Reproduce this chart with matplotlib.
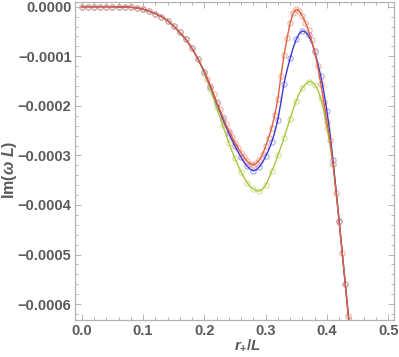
import matplotlib
matplotlib.use("Agg")
import matplotlib.pyplot as plt
from matplotlib.ticker import MultipleLocator, FuncFormatter

plt.rcParams['font.family'] = ['Liberation Sans', 'DejaVu Sans']
plt.rcParams['mathtext.fontset'] = 'custom'
plt.rcParams['mathtext.rm'] = 'Liberation Sans:bold'
plt.rcParams['mathtext.it'] = 'Liberation Sans:italic:bold'
plt.rcParams['mathtext.bf'] = 'Liberation Sans:bold'

# shared flat part, x = 0.00 ... 0.19
x_low = [0.00, 0.01, 0.02, 0.03, 0.04, 0.05, 0.06, 0.07, 0.08, 0.09,
         0.10, 0.11, 0.12, 0.13, 0.14, 0.15, 0.16, 0.17, 0.18, 0.19]
y_low = [0, 0, 0, 0, 0, 0, -0.3e-6, -0.6e-6, -1.2e-6, -2.5e-6,
         -5e-6, -9e-6, -14e-6, -20e-6, -28e-6, -39e-6, -52e-6, -66e-6, -84e-6, -106e-6]

# x = 0.200 ... 0.440 step 0.005
x_high = [0.200, 0.205, 0.210, 0.215, 0.220, 0.225, 0.230, 0.235, 0.240, 0.245,
          0.250, 0.255, 0.260, 0.265, 0.270, 0.275, 0.280, 0.285, 0.290, 0.295,
          0.300, 0.305, 0.310, 0.315, 0.320, 0.325, 0.330, 0.335, 0.340, 0.345,
          0.350, 0.355, 0.360, 0.365, 0.370, 0.375, 0.380, 0.385, 0.390, 0.395,
          0.400, 0.405, 0.410, 0.415, 0.420, 0.425, 0.430, 0.435, 0.440]

# values in units of 1e-6
red_high = [-131, -145, -160, -176, -192, -207, -222, -237, -250, -262,
            -274, -285, -295, -304, -312, -317, -319, -316, -309, -298,
            -282, -264, -244, -218, -186, -140, -98, -64, -33, -13,
            -5, -9, -19, -32, -48, -68, -91, -120, -155, -193,
            -232, -268, -318, -375, -434, -497, -560, -623, -690]

blue_high = [-131, -146, -161, -177, -194, -210, -226, -241, -255, -268,
             -281, -293, -304, -314, -322, -328, -331, -329, -323, -314,
             -302, -289, -273, -253, -228, -193, -155, -128, -104, -83,
             -66, -54, -49, -51, -58, -70, -90, -113, -140, -172,
             -210, -255, -310, -370, -432, -496, -559, -622, -690]

green_high = [-134, -150, -167, -185, -203, -221, -239, -257, -274, -291,
              -306, -320, -334, -345, -355, -363, -368, -371, -372, -368,
              -360, -347, -332, -317, -300, -283, -265, -245, -226, -207,
              -190, -175, -164, -156, -151, -151, -157, -167, -185, -211,
              -245, -278, -318, -372, -432, -496, -559, -622, -690]

x = x_low + x_high
n_low = len(x_low)
every_point = list(range(len(x)))
every_other = list(range(n_low)) + list(range(n_low, len(x), 2))

series = [
    ("green", green_high, "#a8c83a", "#cde08c", every_other),
    ("blue", blue_high, "#3a3ad6", "#9b9bee", every_other),
    ("red", red_high, "#e0603f", "#f2a896", every_point),
]

fig = plt.figure(figsize=(3.99, 3.57), dpi=100)
ax = fig.add_axes([75 / 399, 1 - 320 / 357, 319 / 399, 318.5 / 357])

for name, vals, lc, mc, marks in series:
    y = y_low + [v * 1e-6 for v in vals]
    ax.plot(x, y, color=lc, lw=1.0, zorder=3)
    ax.plot(x, y, ls='none', marker='o', ms=3.8, mfc='none', mec=mc, mew=0.7,
            markevery=marks, zorder=2)

ax.set_xlim(-0.011, 0.5095)
ax.set_ylim(-0.000632, 0.0000105)

ax.xaxis.set_major_locator(MultipleLocator(0.1))
ax.xaxis.set_minor_locator(MultipleLocator(0.02))
ax.yaxis.set_major_locator(MultipleLocator(0.0001))
ax.yaxis.set_minor_locator(MultipleLocator(0.00002))
ax.xaxis.set_major_formatter(FuncFormatter(lambda v, p: f"{v:.1f}"))
ax.yaxis.set_major_formatter(FuncFormatter(
    lambda v, p: "0.0000" if abs(v) < 1e-9 else ("\u2212" if v < 0 else "") + f"{abs(v):.4f}"))

for s in ax.spines.values():
    s.set_color("#b4b4b4")
    s.set_linewidth(0.9)
ax.tick_params(which='both', direction='in', top=True, right=True, color="#b4b4b4", width=0.7)
ax.tick_params(which='major', length=4)
ax.tick_params(which='minor', length=2)
ax.tick_params(axis='y', which='major', pad=2.5, labelsize=10.5, labelcolor="#5a5a5a")
ax.tick_params(axis='x', which='major', pad=3, labelsize=10.5, labelcolor="#5a5a5a")
for lab in ax.get_xticklabels() + ax.get_yticklabels():
    lab.set_fontweight('bold')

fig.text(9.5 / 399, 1 - 170 / 357, r'$\mathrm{Im}(\omega\ L)$', rotation=90,
         ha='center', va='center', fontsize=11.5, color="#5a5a5a")
fig.text(248 / 399, 1 - 345 / 357, r'$r_{+}/L$', ha='center', va='center',
         fontsize=11, color="#5a5a5a")

fig.savefig("out.png", dpi=100)
